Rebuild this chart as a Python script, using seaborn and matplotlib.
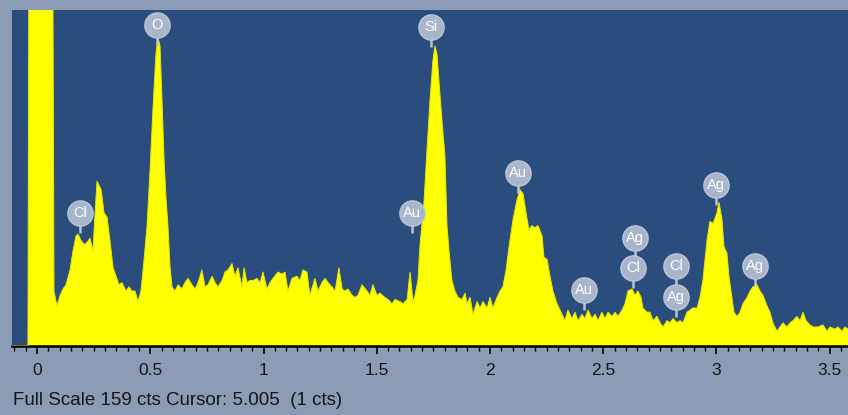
import numpy as np
import pandas as pd
import matplotlib
matplotlib.use("Agg")
import matplotlib.pyplot as plt
import seaborn as sns

# ---- data (energy in keV, counts) ----
energy_kev = [
    -0.110, -0.040, -0.031, 0.062, 0.075, 0.088, 0.102, 0.115, 0.128, 0.146,
    0.159, 0.172, 0.181, 0.194, 0.208, 0.221, 0.234, 0.247, 0.256, 0.265,
    0.274, 0.283, 0.296, 0.309, 0.322, 0.336, 0.349, 0.362, 0.375, 0.393,
    0.406, 0.419, 0.433, 0.446, 0.459, 0.472, 0.486, 0.499, 0.512, 0.525,
    0.534, 0.543, 0.552, 0.561, 0.570, 0.578, 0.587, 0.596, 0.609, 0.623,
    0.640, 0.653, 0.667, 0.684, 0.698, 0.711, 0.728, 0.742, 0.755, 0.773,
    0.786, 0.799, 0.817, 0.830, 0.843, 0.861, 0.874, 0.887, 0.905, 0.914,
    0.927, 0.940, 0.954, 0.971, 0.985, 0.998, 1.015, 1.029, 1.042, 1.064,
    1.082, 1.095, 1.108, 1.126, 1.148, 1.161, 1.174, 1.192, 1.205, 1.227,
    1.241, 1.258, 1.272, 1.285, 1.302, 1.316, 1.333, 1.347, 1.360, 1.373,
    1.391, 1.404, 1.417, 1.435, 1.457, 1.470, 1.483, 1.501, 1.514, 1.536,
    1.550, 1.567, 1.581, 1.603, 1.616, 1.634, 1.647, 1.660, 1.669, 1.682,
    1.691, 1.708, 1.722, 1.735, 1.748, 1.757, 1.766, 1.779, 1.793, 1.801,
    1.810, 1.819, 1.832, 1.845, 1.859, 1.876, 1.890, 1.898, 1.912, 1.925,
    1.943, 1.956, 1.969, 1.987, 2.000, 2.013, 2.031, 2.044, 2.057, 2.071,
    2.084, 2.102, 2.119, 2.132, 2.146, 2.159, 2.172, 2.185, 2.199, 2.212,
    2.230, 2.238, 2.252, 2.265, 2.278, 2.296, 2.309, 2.331, 2.344, 2.362,
    2.375, 2.389, 2.406, 2.419, 2.433, 2.450, 2.464, 2.477, 2.494, 2.508,
    2.521, 2.539, 2.552, 2.565, 2.583, 2.596, 2.609, 2.627, 2.640, 2.653,
    2.667, 2.675, 2.693, 2.706, 2.720, 2.737, 2.751, 2.764, 2.781, 2.795,
    2.808, 2.826, 2.839, 2.852, 2.870, 2.883, 2.896, 2.914, 2.927, 2.940,
    2.958, 2.971, 2.985, 3.002, 3.011, 3.024, 3.033, 3.046, 3.055, 3.068,
    3.077, 3.091, 3.104, 3.117, 3.135, 3.148, 3.161, 3.179, 3.192, 3.205,
    3.223, 3.236, 3.249, 3.267, 3.280, 3.294, 3.311, 3.325, 3.338, 3.355,
    3.369, 3.382, 3.395, 3.413, 3.426, 3.448, 3.470, 3.488, 3.501, 3.523,
    3.536, 3.554, 3.567, 3.581,
]
counts = [
    0, 0, 420, 420, 26, 19, 24, 27, 29, 36,
    45, 52, 53, 50, 48, 49, 51, 45, 62, 78,
    76, 74, 63, 61, 50, 37, 33, 29, 30, 26,
    28, 26, 26, 21, 26, 40, 57, 83, 112, 138,
    146, 142, 116, 88, 69, 57, 38, 28, 26, 29,
    27, 30, 32, 29, 27, 30, 36, 28, 29, 33,
    30, 28, 31, 35, 36, 39, 33, 37, 28, 37,
    30, 31, 31, 32, 30, 35, 27, 30, 32, 35,
    34, 35, 26, 32, 33, 31, 36, 35, 24, 32,
    26, 30, 32, 30, 28, 26, 37, 27, 26, 27,
    24, 23, 24, 29, 26, 24, 29, 24, 25, 23,
    22, 20, 22, 21, 20, 22, 35, 21, 24, 31,
    48, 67, 93, 116, 135, 142, 138, 119, 100, 90,
    57, 45, 31, 26, 23, 22, 25, 20, 23, 15,
    21, 18, 21, 18, 23, 18, 23, 26, 28, 36,
    47, 60, 69, 74, 72, 63, 55, 57, 56, 57,
    52, 42, 41, 33, 26, 20, 17, 12, 17, 13,
    16, 12, 15, 13, 17, 13, 15, 12, 16, 13,
    16, 14, 16, 14, 17, 20, 26, 27, 24, 26,
    23, 18, 16, 16, 12, 14, 11, 9, 12, 11,
    13, 11, 12, 11, 16, 17, 18, 18, 23, 31,
    50, 59, 58, 63, 68, 60, 47, 44, 33, 23,
    16, 14, 16, 20, 23, 26, 28, 29, 26, 24,
    19, 16, 11, 7, 9, 11, 9, 11, 12, 14,
    12, 16, 12, 10, 9, 9, 10, 7, 9, 8,
    9, 7, 9, 8,
]

# peak labels
label_text = ["Cl", "O", "Si", "Au", "Au", "Au", "Cl", "Ag", "Cl", "Ag", "Ag", "Ag"]
label_energy = [0.190, 0.530, 1.740, 1.656, 2.124, 2.415, 2.631, 2.640, 2.821, 2.821, 2.998, 3.170]
label_count = [63, 152, 151, 63, 82, 26.5, 37, 51, 38, 23, 76, 38]

tick_values = [0, 0.5, 1, 1.5, 2, 2.5, 3, 3.5]
tick_labels = ["0", "0.5", "1", "1.5", "2", "2.5", "3", "3.5"]
full_scale = 159
footer = "Full Scale 159 cts Cursor: 5.005  (1 cts)"

# ---- drawing ----
sns.set_theme(style="white")
plt.rcParams["font.family"] = ["Liberation Sans", "DejaVu Sans"]

W, H = 848, 415
fig = plt.figure(figsize=(W / 100, H / 100), dpi=100, facecolor="#8c9cb6")
ax = fig.add_axes([12 / W, 1 - 346 / H, (848 - 12) / W, (346 - 10) / H])
ax.set_facecolor("#2a4d7d")

df = pd.DataFrame({"energy": energy_kev, "counts": counts})
ax.fill_between(df["energy"], 0, df["counts"], color="#ffff00", lw=0, zorder=2)
sns.lineplot(data=df, x="energy", y="counts", ax=ax, color="#e8e800",
             lw=0.7, zorder=3)

ax.set_xlim(-0.1104, 3.5806)
ax.set_ylim(0, full_scale)

# label blobs: stem, round badge, text
lab = pd.DataFrame({"e": label_energy, "c": label_count, "t": label_text})
for e, c in zip(lab["e"], lab["c"]):
    ax.plot([e, e], [c, c - 9.5], color="#bac4d5", lw=1.8, zorder=5,
            solid_capstyle="butt")
sns.scatterplot(data=lab, x="e", y="c", ax=ax, s=330, marker="o",
                color="#a9b5ca", edgecolor="#bcc6d7", linewidth=1.0, zorder=6,
                legend=False)
for t, e, c in zip(lab["t"], lab["e"], lab["c"]):
    ax.text(e, c, t, ha="center", va="center", fontsize=10.5, color="white",
            zorder=7)

# axes styling
for s in ["top", "left", "right"]:
    ax.spines[s].set_visible(False)
ax.spines["bottom"].set_color("black")
ax.spines["bottom"].set_linewidth(1.8)
ax.set_yticks([])
ax.set_xticks(tick_values)
ax.set_xticklabels(tick_labels, fontsize=12.5, color="#151515")
ax.set_xticks(np.arange(-0.10, 3.6, 0.05), minor=True)
ax.tick_params(axis="x", which="major", direction="out", length=5.5, width=1.2,
               color="black", pad=7, bottom=True)
ax.tick_params(axis="x", which="minor", direction="out", length=3.5, width=1.0,
               color="black", bottom=True)
ax.set_xlabel("")
ax.set_ylabel("")
ax.grid(False)

fig.text(13 / W, 1 - 400 / H, footer, fontsize=13.5, color="#151515",
         ha="left", va="center")

fig.savefig("out.png", dpi=100, facecolor=fig.get_facecolor())
